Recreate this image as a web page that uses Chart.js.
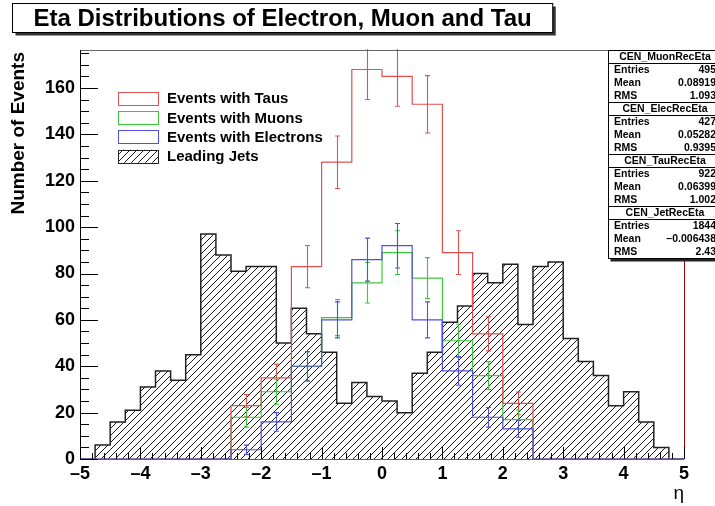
<!DOCTYPE html>
<html>
<head>
<meta charset="utf-8">
<script src="https://cdn.jsdelivr.net/npm/chart.js@4.4.0/dist/chart.umd.min.js"></script>
<style>
html, body { margin: 0; padding: 0; background: #fff; }
#wrap { width: 715px; height: 506px; }
</style>
</head>
<body>
<div id="wrap"><canvas id="c" width="715" height="506"></canvas></div>
<script>
// bin edges (eta)
const lepEdges = [-5, -4.5, -4, -3.5, -3, -2.5, -2, -1.5, -1, -0.5, 0, 0.5, 1, 1.5, 2, 2.5, 3, 3.5, 4, 4.5, 5];
const jetEdges = [-5, -4.75, -4.5, -4.25, -4, -3.75, -3.5, -3.25, -3, -2.75, -2.5, -2.25, -2, -1.75, -1.5, -1.25, -1, -0.75, -0.5, -0.25,
    0, 0.25, 0.5, 0.75, 1, 1.25, 1.5, 1.75, 2, 2.25, 2.5, 2.75, 3, 3.25, 3.5, 3.75, 4, 4.25, 4.5, 4.75, 5];

// counts per bin
const tauCounts  = [0, 0, 0, 0, 0, 23, 35, 83, 128, 168, 165, 153, 89, 54, 24, 0, 0, 0, 0, 0];
const muonCounts = [0, 0, 0, 0, 0, 18, 29, 40, 61, 76, 89, 78, 51, 36, 17, 0, 0, 0, 0, 0];
const elecCounts = [0, 0, 0, 0, 0, 4, 16, 40, 60, 86, 92, 60, 38, 18, 13, 0, 0, 0, 0, 0];
const jetCounts  = [0, 6, 16, 21, 31, 38, 34, 45, 97, 88, 81, 83, 83, 50, 65, 54, 46, 24, 33, 27,
    25, 20, 37, 46, 59, 66, 80, 76, 84, 58, 83, 85, 52, 42, 36, 23, 29, 16, 5, 0];

const xTicks = [-5, -4, -3, -2, -1, 0, 1, 2, 3, 4, 5];
const yTicks = [0, 20, 40, 60, 80, 100, 120, 140, 160];

// stats box
const statNames   = ["CEN_MuonRecEta", "CEN_ElecRecEta", "CEN_TauRecEta", "CEN_JetRecEta"];
const statEntries = ["495", "427", "922", "1844"];
const statMeans   = ["0.08919", "0.05282", "0.06399", "\u20130.006438"];
const statRms     = ["1.093", "0.9395", "1.002", "2.43"];

const titleText = "Eta Distributions of Electron, Muon and Tau";
const FONT = "'Liberation Sans', Arial, sans-serif";

function histPoints(edges, counts) {
    return edges.map((e, i) => ({ x: e, y: i < counts.length ? counts[i] : 0 }));
}

function makeHatch() {
    const c = document.createElement("canvas");
    c.width = 7; c.height = 7;
    const g = c.getContext("2d");
    g.strokeStyle = "#000";
    g.lineWidth = 0.9;
    g.beginPath();
    g.moveTo(0, 7); g.lineTo(7, 0);
    g.moveTo(-1, 1); g.lineTo(1, -1);
    g.moveTo(6, 8); g.lineTo(8, 6);
    g.stroke();
    return g.createPattern(c, "repeat");
}
const hatch = makeHatch();

const RED = "rgb(226,80,80)", GREEN = "rgb(60,200,60)", BLUE = "rgb(80,80,225)";

const errorBars = {
    id: "errorBars",
    afterDatasetsDraw(chart) {
        const { ctx, chartArea: a, scales: { x, y } } = chart;
        ctx.save();
        ctx.beginPath();
        ctx.rect(a.left, a.top - 1, a.right - a.left, a.bottom - a.top + 1);
        ctx.clip();
        chart.data.datasets.forEach((ds) => {
            if (!ds.counts) return;
            ctx.strokeStyle = ds.borderColor;
            ctx.lineWidth = 1.1;
            ds.counts.forEach((n, i) => {
                if (n <= 0) return;
                const cx = Math.round(x.getPixelForValue((lepEdges[i] + lepEdges[i + 1]) / 2)) + 0.5;
                const err = Math.sqrt(n);
                const y1 = y.getPixelForValue(n - err), y2 = y.getPixelForValue(n + err);
                ctx.beginPath();
                ctx.moveTo(cx, y1); ctx.lineTo(cx, y2);
                ctx.moveTo(cx - 2.5, y1); ctx.lineTo(cx + 2.5, y1);
                ctx.moveTo(cx - 2.5, y2); ctx.lineTo(cx + 2.5, y2);
                ctx.stroke();
            });
        });
        ctx.restore();
    }
};

const frame = {
    id: "frame",
    afterDatasetsDraw(chart) {
        const { ctx, chartArea: a, scales: { x, y } } = chart;
        ctx.save();
        ctx.lineWidth = 1;
        // top frame and right edge
        ctx.strokeStyle = "#666";
        ctx.beginPath(); ctx.moveTo(a.left, a.top + 0.5); ctx.lineTo(a.right, a.top + 0.5); ctx.stroke();
        ctx.strokeStyle = "#a00000";
        ctx.beginPath(); ctx.moveTo(a.right + 0.5, a.top); ctx.lineTo(a.right + 0.5, a.bottom); ctx.stroke();
        // axes
        ctx.strokeStyle = "#000";
        ctx.beginPath(); ctx.moveTo(a.left + 0.5, a.top); ctx.lineTo(a.left + 0.5, a.bottom); ctx.stroke();
        ctx.strokeStyle = BLUE;
        ctx.beginPath(); ctx.moveTo(a.left, a.bottom + 0.5); ctx.lineTo(a.right, a.bottom + 0.5); ctx.stroke();
        // x ticks
        ctx.strokeStyle = "#000";
        ctx.beginPath();
        for (let k = 0; k < xTicks.length; k++) {
            const px = Math.round(x.getPixelForValue(xTicks[k])) + 0.5;
            ctx.moveTo(px, a.bottom); ctx.lineTo(px, a.bottom - 12);
            if (k < xTicks.length - 1) {
                for (let m = 1; m < 5; m++) {
                    const mx = Math.round(x.getPixelForValue(xTicks[k] + m * 0.2)) + 0.5;
                    ctx.moveTo(mx, a.bottom); ctx.lineTo(mx, a.bottom - 6);
                }
            }
        }
        // y ticks
        for (let k = 0; k < yTicks.length; k++) {
            const py = Math.round(y.getPixelForValue(yTicks[k])) + 0.5;
            ctx.moveTo(a.left, py); ctx.lineTo(a.left + 18, py);
            for (let m = 1; m < 4; m++) {
                const v = yTicks[k] + m * 5;
                if (v > y.max) break;
                const my = Math.round(y.getPixelForValue(v)) + 0.5;
                ctx.moveTo(a.left, my); ctx.lineTo(a.left + 9, my);
            }
        }
        ctx.stroke();
        ctx.restore();
    },
    afterDraw(chart) {
        const { ctx, chartArea: a } = chart;
        ctx.save();
        // axis titles
        ctx.fillStyle = "#000";
        ctx.font = "bold 19px " + FONT;
        ctx.save();
        ctx.translate(19, a.top + 2);
        ctx.rotate(-Math.PI / 2);
        ctx.textAlign = "right";
        ctx.textBaseline = "middle";
        ctx.fillText("Number of Events", 0, 0);
        ctx.restore();
        ctx.font = "19px " + FONT;
        ctx.textAlign = "right";
        ctx.textBaseline = "middle";
        ctx.fillText("\u03b7", a.right, 494);

        // title box
        ctx.font = "bold 24px " + FONT;
        const tw = ctx.measureText(titleText).width;
        const bx = 12.5, by = 3.5, bw = tw + 42, bh = 29;
        ctx.fillStyle = "#333";
        ctx.fillRect(bx + 3, by + 3, bw, bh);
        ctx.fillStyle = "#fff";
        ctx.fillRect(bx, by, bw, bh);
        ctx.strokeStyle = "#000";
        ctx.strokeRect(bx, by, bw, bh);
        ctx.fillStyle = "#000";
        ctx.textAlign = "center";
        ctx.textBaseline = "middle";
        ctx.fillText(titleText, bx + bw / 2, by + bh / 2 + 1);

        // legend
        ctx.font = "bold 15px " + FONT;
        ctx.textAlign = "left";
        chart.data.datasets.forEach((ds, i) => {
            const cy = 98 + i * 19.4;
            ctx.fillStyle = ds.fill ? ds.backgroundColor : "#fff";
            ctx.fillRect(118, cy - 6.5, 40, 13);
            ctx.strokeStyle = ds.borderColor;
            ctx.lineWidth = 1;
            ctx.strokeRect(118.5, Math.round(cy - 6.5) + 0.5, 40, 13);
            ctx.fillStyle = "#000";
            ctx.fillText(ds.label, 167, cy + 1);
        });

        // stats box
        const sx = 608.5, sy = 50.5, sw = 114, rh = 13;
        const sh = rh * 4 * statNames.length;
        ctx.fillStyle = "#222";
        ctx.fillRect(sx + 2, sy + sh, sw, 3);
        ctx.fillStyle = "#fff";
        ctx.fillRect(sx, sy, sw, sh);
        ctx.strokeStyle = "#000";
        ctx.lineWidth = 1;
        ctx.strokeRect(sx, sy, sw, sh);
        ctx.font = "bold 10.5px " + FONT;
        ctx.textBaseline = "middle";
        ctx.fillStyle = "#000";
        statNames.forEach((name, k) => {
            const top = sy + k * 4 * rh;
            ctx.beginPath();
            ctx.moveTo(sx, top); ctx.lineTo(sx + sw, top);
            ctx.moveTo(sx, top + rh); ctx.lineTo(sx + sw, top + rh);
            ctx.stroke();
            ctx.textAlign = "center";
            ctx.fillText(name, 665, top + rh / 2 + 0.5);
            const rows = [["Entries", statEntries[k]], ["Mean", statMeans[k]], ["RMS", statRms[k]]];
            rows.forEach((r, j) => {
                const ry = top + rh * (j + 1) + rh / 2 + 0.5;
                ctx.textAlign = "left";
                ctx.fillText(r[0], 614, ry);
                ctx.textAlign = "right";
                ctx.fillText(r[1], 716, ry);
            });
        });
        ctx.restore();
    }
};

new Chart(document.getElementById("c"), {
    type: "line",
    data: {
        datasets: [
            { label: "Events with Taus", data: histPoints(lepEdges, tauCounts), counts: tauCounts,
              borderColor: RED, borderWidth: 1.2, stepped: "before", pointRadius: 0, fill: false, order: 2 },
            { label: "Events with Muons", data: histPoints(lepEdges, muonCounts), counts: muonCounts,
              borderColor: GREEN, borderWidth: 1.2, stepped: "before", pointRadius: 0, fill: false, order: 3 },
            { label: "Events with Electrons", data: histPoints(lepEdges, elecCounts), counts: elecCounts,
              borderColor: BLUE, borderWidth: 1.2, stepped: "before", pointRadius: 0, fill: false, order: 1 },
            { label: "Leading Jets", data: histPoints(jetEdges, jetCounts),
              borderColor: "#222", borderWidth: 1.5, backgroundColor: hatch, stepped: "before",
              pointRadius: 0, fill: "origin", order: 4 },
        ],
    },
    options: {
        responsive: false,
        devicePixelRatio: 1,
        animation: false,
        layout: { padding: { top: 50, right: 31, left: 0, bottom: 0 } },
        plugins: { legend: { display: false }, tooltip: { enabled: false } },
        scales: {
            x: {
                type: "linear", min: -5, max: 5,
                grid: { display: false, drawTicks: false },
                border: { display: false },
                ticks: {
                    stepSize: 1, autoSkip: false, maxRotation: 0, padding: 4, color: "#000",
                    font: { family: FONT, weight: "bold", size: 18 },
                    callback: (v) => String(v).replace("-", "\u2013"),
                },
                afterFit: (s) => { s.height = 47; },
            },
            y: {
                min: 0, max: 176.4,
                grid: { display: false, drawTicks: false },
                border: { display: false },
                ticks: {
                    stepSize: 20, includeBounds: false, padding: 5, color: "#000",
                    font: { family: FONT, weight: "bold", size: 18 },
                },
                afterFit: (s) => { s.width = 80; },
            },
        },
    },
    plugins: [errorBars, frame],
});
</script>
</body>
</html>
